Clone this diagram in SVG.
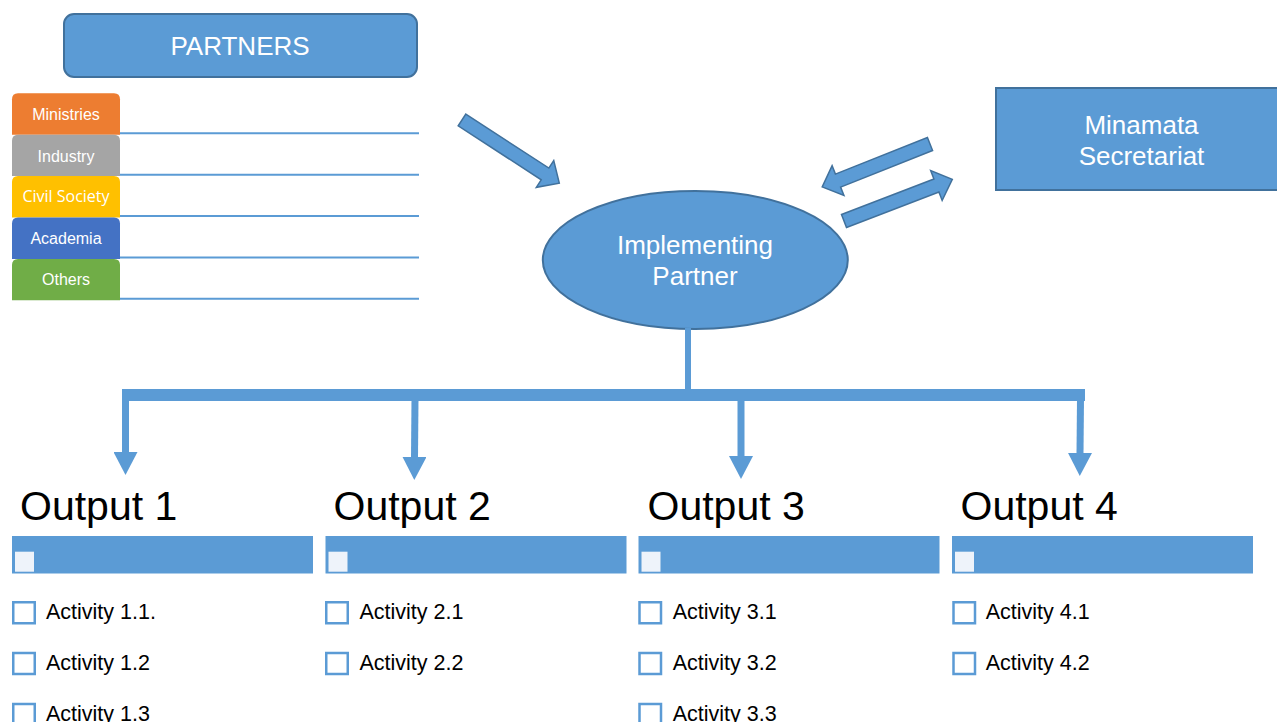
<svg xmlns="http://www.w3.org/2000/svg" width="1277" height="722" viewBox="0 0 1277 722">
<style>
  .blue { fill: #5B9BD5; stroke: #41719C; stroke-width: 2; }
  .wt { fill: #FFFFFF; font-family: "Liberation Sans", Arial, sans-serif; text-anchor: middle; }
  .big { font-size: 26px; }
  .tab { font-size: 16px; }
  .line { stroke: #5B9BD5; stroke-width: 2; fill: none; }
  .blk { fill: #5B9BD5; stroke: #41719C; stroke-width: 1.5; }
  .conn { stroke: #5B9BD5; fill: none; }
  .title { font-family: "Liberation Sans", Arial, sans-serif; font-size: 41px; fill: #000; }
  .act { font-family: "Liberation Sans", Arial, sans-serif; font-size: 21.5px; fill: #000; }
  .bar { fill: #5B9BD5; }
  .sq { fill: #EEF3FA; }
  .cb { fill: #FFFFFF; stroke: #5B9BD5; stroke-width: 2.5; }
</style>
<defs>
  <marker id="head" markerUnits="userSpaceOnUse" viewBox="0 -12 23 24" refX="0" refY="0" markerWidth="23" markerHeight="24" orient="auto">
    <path d="M0,-12 L23,0 L0,12 Z" fill="#5B9BD5"/>
  </marker>
  <polygon id="blockArrow" points="0,-7 99,-7 99,-16 116,0 99,16 99,7 0,7"/>
</defs>
<rect width="1277" height="722" fill="#FFFFFF"/>

<g id="partners">
  <rect class="blue" x="64" y="14" width="353" height="63" rx="10"/>
  <text class="wt big" x="240" y="55">PARTNERS</text>
</g>

<g id="partner-lines">
  <line class="line" x1="118" y1="133.3" x2="419" y2="133.3"/>
  <line class="line" x1="118" y1="174.7" x2="419" y2="174.7"/>
  <line class="line" x1="118" y1="216" x2="419" y2="216"/>
  <line class="line" x1="118" y1="257.5" x2="419" y2="257.5"/>
  <line class="line" x1="118" y1="298.8" x2="419" y2="298.8"/>
</g>

<g id="ministries">
  <path d="M12,134.7 V99.3 Q12,93.3 18,93.3 H114 Q120,93.3 120,99.3 V134.7 Z" fill="#ED7D31"/>
  <text class="wt tab" x="66" y="119.5">Ministries</text>
</g>
<g id="industry">
  <path d="M12,176.1 V140.7 Q12,134.7 18,134.7 H114 Q120,134.7 120,140.7 V176.1 Z" fill="#A5A5A5"/>
  <text class="wt tab" x="66" y="161.5">Industry</text>
</g>
<g id="civil-society">
  <path d="M12,217.5 V182.1 Q12,176.1 18,176.1 H114 Q120,176.1 120,182.1 V217.5 Z" fill="#FFC000"/>
  <text class="wt" style="font-family:'Open Sans','Liberation Sans',sans-serif;font-size:16px" x="66" y="202">Civil Society</text>
</g>
<g id="academia">
  <path d="M12,258.9 V223.5 Q12,217.5 18,217.5 H114 Q120,217.5 120,223.5 V258.9 Z" fill="#4472C4"/>
  <text class="wt tab" x="66" y="244">Academia</text>
</g>
<g id="others">
  <path d="M12,300.3 V264.9 Q12,258.9 18,258.9 H114 Q120,258.9 120,264.9 V300.3 Z" fill="#70AD47"/>
  <text class="wt tab" x="66" y="285">Others</text>
</g>

<g id="implementing-partner">
  <ellipse class="blue" cx="695.3" cy="260" rx="152.5" ry="69"/>
  <text class="wt big" x="695" y="254">Implementing</text>
  <text class="wt big" x="695" y="285">Partner</text>
</g>

<g id="minamata-secretariat">
  <rect class="blue" x="996" y="88" width="292" height="102"/>
  <text class="wt big" x="1141.5" y="134">Minamata</text>
  <text class="wt big" x="1141.5" y="165">Secretariat</text>
</g>

<g id="connectors">
  <use href="#blockArrow" class="blk" transform="translate(462,120) rotate(33)"/>
  <use href="#blockArrow" class="blk" transform="translate(930,144) rotate(158.3)"/>
  <use href="#blockArrow" class="blk" transform="translate(844,221) rotate(-21)"/>
  <line class="conn" x1="688" y1="328" x2="688" y2="392" stroke-width="6"/>
  <rect x="122" y="389" width="963" height="12" fill="#5B9BD5"/>
  <line class="conn" x1="125.5" y1="399" x2="125.5" y2="452" stroke-width="7" marker-end="url(#head)"/>
  <line class="conn" x1="415" y1="399" x2="414.5" y2="457" stroke-width="7" marker-end="url(#head)"/>
  <line class="conn" x1="741" y1="399" x2="741" y2="456" stroke-width="7" marker-end="url(#head)"/>
  <line class="conn" x1="1080.5" y1="399" x2="1080" y2="453" stroke-width="7" marker-end="url(#head)"/>
</g>

<g id="output-1">
  <text class="title" x="20" y="520">Output 1</text>
  <rect class="bar" x="12" y="536" width="301" height="37.5"/>
  <rect class="sq" x="15" y="551.7" width="19" height="20"/>
  <rect class="cb" x="13.25" y="602.25" width="21.5" height="21"/>
  <text class="act" x="46" y="619">Activity 1.1.</text>
  <rect class="cb" x="13.25" y="653" width="21.5" height="21"/>
  <text class="act" x="46" y="670">Activity 1.2</text>
  <rect class="cb" x="13.25" y="704" width="21.5" height="21"/>
  <text class="act" x="46" y="721">Activity 1.3</text>
</g>

<g id="output-2">
  <text class="title" x="333.5" y="520">Output 2</text>
  <rect class="bar" x="325.5" y="536" width="301" height="37.5"/>
  <rect class="sq" x="328.5" y="551.7" width="19" height="20"/>
  <rect class="cb" x="326.25" y="602.25" width="21.5" height="21"/>
  <text class="act" x="359.5" y="619">Activity 2.1</text>
  <rect class="cb" x="326.25" y="653" width="21.5" height="21"/>
  <text class="act" x="359.5" y="670">Activity 2.2</text>
</g>

<g id="output-3">
  <text class="title" x="647.5" y="520">Output 3</text>
  <rect class="bar" x="638.5" y="536" width="301" height="37.5"/>
  <rect class="sq" x="641.5" y="551.7" width="19" height="20"/>
  <rect class="cb" x="639.5" y="602.25" width="21.5" height="21"/>
  <text class="act" x="672.7" y="619">Activity 3.1</text>
  <rect class="cb" x="639.5" y="653" width="21.5" height="21"/>
  <text class="act" x="672.7" y="670">Activity 3.2</text>
  <rect class="cb" x="639.5" y="704" width="21.5" height="21"/>
  <text class="act" x="672.7" y="721">Activity 3.3</text>
</g>

<g id="output-4">
  <text class="title" x="960.5" y="520">Output 4</text>
  <rect class="bar" x="952" y="536" width="301" height="37.5"/>
  <rect class="sq" x="955" y="551.7" width="19" height="20"/>
  <rect class="cb" x="953.5" y="602.25" width="21.5" height="21"/>
  <text class="act" x="985.7" y="619">Activity 4.1</text>
  <rect class="cb" x="953.5" y="653" width="21.5" height="21"/>
  <text class="act" x="985.7" y="670">Activity 4.2</text>
</g>
</svg>
